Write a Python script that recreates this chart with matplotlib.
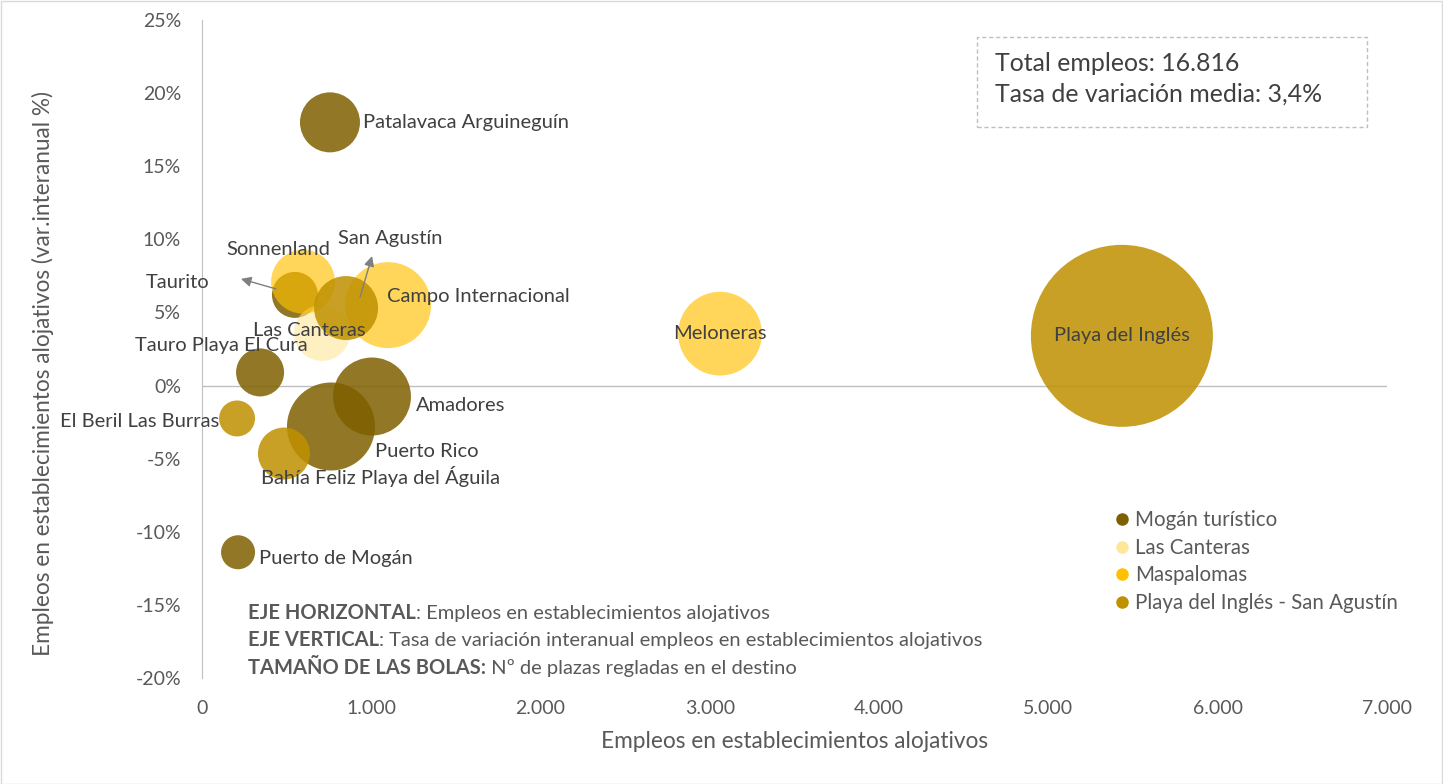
import matplotlib.pyplot as plt
import numpy as np
from matplotlib.lines import Line2D
from matplotlib.patches import Rectangle
from matplotlib.transforms import ScaledTranslation

plt.rcParams['font.family'] = ['Lato', 'DejaVu Sans']

# zonas turisticas: empleos, variacion interanual (%), plazas regladas, grupo
zonas = ["Patalavaca Arguineguín", "Taurito", "Tauro Playa El Cura", "Amadores",
         "Puerto Rico", "Puerto de Mogán", "Las Canteras", "Sonnenland",
         "Campo Internacional", "Meloneras", "Playa del Inglés", "San Agustín",
         "El Beril Las Burras", "Bahía Feliz Playa del Águila"]
empleos = [756, 549, 343, 1004, 762, 213, 709, 597, 1099, 3060, 5434, 851, 207, 484]
variacion = [18.0, 6.2, 0.9, -0.75, -2.8, -11.4, 3.6, 7.1, 5.5, 3.55, 3.4, 5.3, -2.25, -4.65]
plazas = [5650, 3320, 3620, 9550, 12160, 1815, 4920, 6400, 11600, 11000, 52000, 6430, 2030, 4245]
grupo = ["Mogán turístico"] * 6 + ["Las Canteras"] + ["Maspalomas"] * 3 + \
        ["Playa del Inglés - San Agustín"] * 4

grupos = ["Mogán turístico", "Las Canteras", "Maspalomas", "Playa del Inglés - San Agustín"]
colores = ["#7F6000", "#FFE699", "#FFC000", "#BF9000"]
alphas = [0.85, 0.6, 0.65, 0.85]

# posicion de etiquetas (offset en pixeles desde el centro), alineacion
etiquetas = {
    "Patalavaca Arguineguín": (33, 0, "left"),
    "Taurito": (-117, 12, "center"),
    "Tauro Playa El Cura": (-39, 27, "center"),
    "Amadores": (44, -9, "left"),
    "Puerto Rico": (44, -25, "left"),
    "Puerto de Mogán": (21, -6, "left"),
    "Las Canteras": (-13, 2, "center"),
    "Sonnenland": (-25, 32, "center"),
    "Campo Internacional": (-1, 9, "left"),
    "Meloneras": (0, 0, "center"),
    "Playa del Inglés": (0, 0, "center"),
    "San Agustín": (44, 70, "center"),
    "El Beril Las Burras": (-18, -3, "right"),
    "Bahía Feliz Playa del Águila": (-23, -23, "left"),
}
# flechas (cola, punta) en pixeles desde el centro
flechas = {
    "Taurito": ((-19, 6), (-54, 16)),
    "San Agustín": ((14, 11), (26, 52)),
}

total_txt = "Total empleos: 16.816\nTasa de variación media: 3,4%"
notas = [("EJE HORIZONTAL", ": Empleos en establecimientos alojativos"),
         ("EJE VERTICAL", ": Tasa de variación interanual empleos en establecimientos alojativos"),
         ("TAMAÑO DE LAS BOLAS:", " Nº de plazas regladas en el destino")]

W, H = 1443, 784
fig = plt.figure(figsize=(W / 100, H / 100), dpi=100)
ax = fig.add_axes([202 / W, 1 - 678 / H, (1387 - 202) / W, (678 - 20) / H])

gris = "#595959"
escala = 17172 / 52000  # area en puntos^2 por plaza

for g, c, a in zip(grupos, colores, alphas):
    idx = [i for i in range(len(zonas)) if grupo[i] == g]
    ax.scatter([empleos[i] for i in idx], [variacion[i] for i in idx],
               s=[plazas[i] * escala for i in idx], color=c, alpha=a,
               edgecolors="none", zorder=3)

px = 0.72
for i, z in enumerate(zonas):
    dx, dy, ha = etiquetas[z]
    ax.annotate(z, (empleos[i], variacion[i]), xytext=(dx * px, dy * px),
                textcoords="offset points", ha=ha, va="center",
                fontsize=14.5, color="#404040", zorder=5)
    if z in flechas:
        (tx, ty), (hx, hy) = flechas[z]
        t_cola = ax.transData + ScaledTranslation(tx * px / 72, ty * px / 72, fig.dpi_scale_trans)
        t_punta = ax.transData + ScaledTranslation(hx * px / 72, hy * px / 72, fig.dpi_scale_trans)
        ax.annotate("", xy=(empleos[i], variacion[i]), xycoords=t_punta,
                    xytext=(empleos[i], variacion[i]), textcoords=t_cola,
                    arrowprops=dict(arrowstyle="-|>", color="#7f7f7f", lw=1,
                                    shrinkA=0, shrinkB=0, mutation_scale=15),
                    zorder=5)

ax.set_xlim(0, 7000)
ax.set_ylim(-20, 25)
ax.set_xticks(np.arange(0, 7001, 1000))
ax.set_xticklabels(["0"] + [f"{v:,}".replace(",", ".") for v in range(1000, 7001, 1000)])
ax.set_yticks(np.arange(-20, 26, 5))
ax.set_yticklabels([f"{v}%" for v in range(-20, 26, 5)])
ax.tick_params(length=0, labelsize=14, colors=gris)
ax.tick_params(axis="y", pad=15)
ax.tick_params(axis="x", pad=16)
for s in ["top", "right", "bottom"]:
    ax.spines[s].set_visible(False)
ax.spines["left"].set_color("#BFBFBF")
ax.axhline(0, color="#BFBFBF", lw=1, zorder=1)

ax.set_xlabel("Empleos en establecimientos alojativos", fontsize=16.3, color=gris)
ax.set_ylabel("Empleos en establecimientos alojativos (var.interanual %)", fontsize=16.3,
              color=gris)
ax.xaxis.set_label_coords(0.5, (678 - 731) / 658)
ax.yaxis.set_label_coords((54 - 202) / 1185, (678 - 374) / 658)

# cuadro con totales
fig.patches.append(Rectangle((977 / W, 1 - 127 / H), 390 / W, 90 / H, transform=fig.transFigure,
                             fill=False, edgecolor="#BFBFBF", lw=1, ls=(0, (3, 2))))
fig.text(995 / W, 1 - 79 / H, total_txt, fontsize=17.9, color="#404040", va="center",
         linespacing=1.42)

# leyenda
handles = [Line2D([], [], marker="o", ls="none", color=c, markersize=8) for c in colores]
fig.legend(handles, grupos, loc="upper left", bbox_to_anchor=(1091 / W, 1 - 492 / H),
           frameon=False, fontsize=14.8, handletextpad=0.05, labelspacing=0.36,
           labelcolor=gris, handlelength=1.2)

# notas de los ejes
fig.canvas.draw()
r = fig.canvas.get_renderer()
for k, (neg, resto) in enumerate(notas):
    y = 1 - (613 + 27.5 * k) / H
    tb = fig.text(248 / W, y, neg, fontsize=14.5, fontweight="bold", color=gris, va="center")
    bb = tb.get_window_extent(r)
    fig.text(bb.x1 / W, y, resto, fontsize=14.5, color=gris, va="center")

# marco del grafico
fig.patches.append(Rectangle((0.5 / W, 0.5 / H), 1 - 1.5 / W, 1 - 1.5 / H, transform=fig.transFigure,
                             fill=False, edgecolor="#D9D9D9", lw=1))

plt.savefig("out.png", dpi=100)
